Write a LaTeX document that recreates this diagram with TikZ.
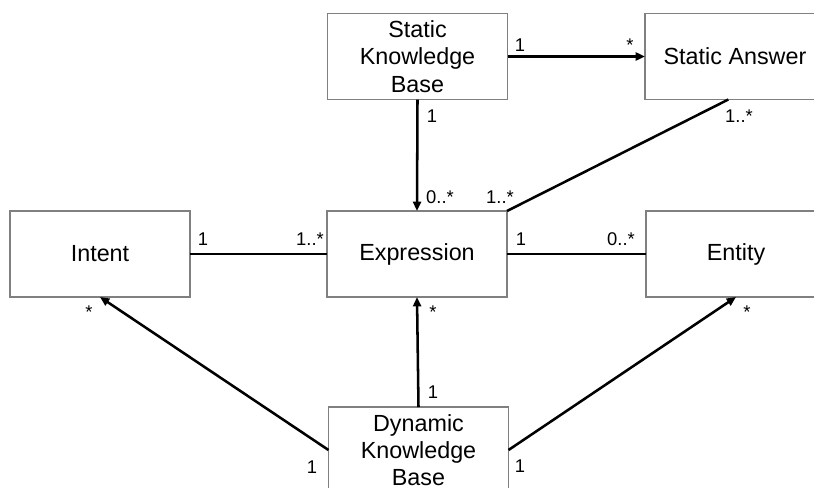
\documentclass[tikz,border=0pt]{standalone}
\usepackage{fontspec}
\setmainfont{Liberation Sans}
\usetikzlibrary{arrows.meta}

\tikzset{
  classbox/.style={draw=black!50, line width=0.8pt, fill=white,
    minimum width=135pt, minimum height=64.5pt, inner sep=0pt, outer sep=0pt,
    align=center, font=\fontsize{17.5}{20.5}\selectfont},
  assoc/.style={line width=1.9pt, draw=black},
  navassoc/.style={assoc, -{Triangle[length=7pt,width=6pt]}},
  mult/.style={anchor=base, inner sep=0pt, font=\fontsize{13.8}{16}\selectfont}
}

\begin{document}
\begin{tikzpicture}[x=0.75pt, y=-0.75pt]
  \useasboundingbox (0,0) rectangle (814,487);
  \clip (0,0) rectangle (814,487);

  % classes
  \node[classbox] (skb)    at (417.5,56.5) {Static\\Knowledge\\Base};
  \node[classbox] (sa)     at (735,56.5)   {Static Answer};
  \node[classbox] (intent) at (100,254)    {Intent};
  \node[classbox] (expr)   at (417,254)    {Expression};
  \node[classbox] (entity) at (736,254)    {Entity};
  \node[classbox] (dkb)    at (418.5,450)  {Dynamic\\Knowledge\\Base};

  % associations
  \draw[navassoc] (skb.south) -- (expr.north);
  \draw[navassoc] (skb.east) -- (sa.west);
  \draw[assoc] ([xshift=-5]sa.south) -- (expr.north east);
  \draw[assoc] (intent.east) -- (expr.west);
  \draw[assoc] (expr.east) -- (entity.west);
  \draw[navassoc] (dkb.north) -- (expr.south);
  \draw[navassoc] (dkb.west) -- (intent.south);
  \draw[navassoc] (dkb.east) -- (entity.south);

  % multiplicities
  \node[mult] (m1)  at (520,51)  {1};
  \node[mult] (m2)  at (630,51)  {*};
  \node[mult] (m3)  at (432,122) {1};
  \node[mult] (m4)  at (440,203) {0..*};
  \node[mult] (m5)  at (739,122) {1..*};
  \node[mult] (m6)  at (500,203) {1..*};
  \node[mult] (m7)  at (203,245) {1};
  \node[mult] (m8)  at (310,245) {1..*};
  \node[mult] (m9)  at (521,245) {1};
  \node[mult] (m10) at (621,245) {0..*};
  \node[mult] (m11) at (433,318) {*};
  \node[mult] (m12) at (433,398) {1};
  \node[mult] (m13) at (89,318)  {*};
  \node[mult] (m14) at (312,473) {1};
  \node[mult] (m15) at (747,318) {*};
  \node[mult] (m16) at (520,472) {1};
\end{tikzpicture}
\end{document}
